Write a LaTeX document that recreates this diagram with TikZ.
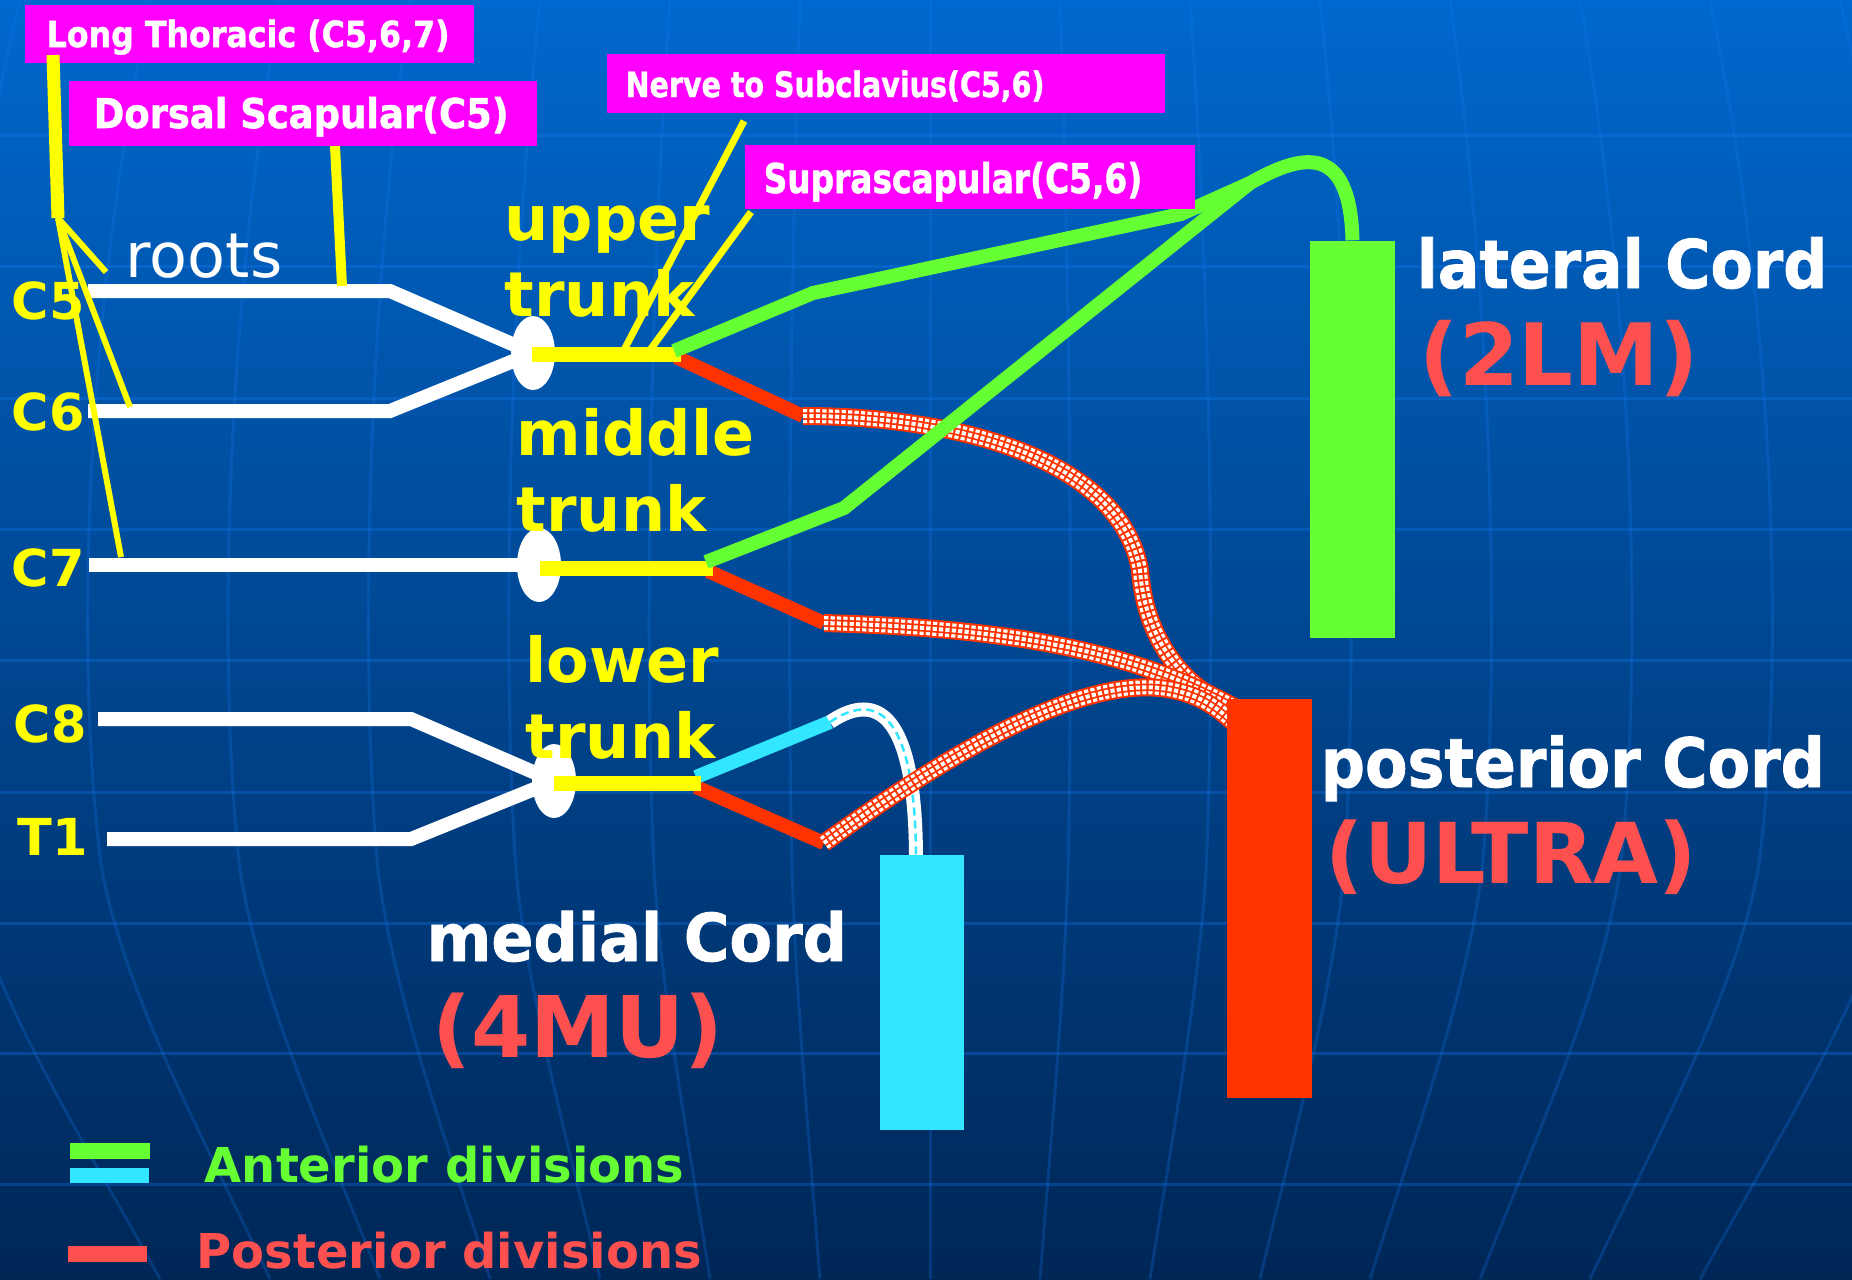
\documentclass[tikz,border=0pt]{standalone}
\usepackage{fontspec}
\usepackage{graphicx}
\setmainfont{DejaVu Sans}
\newfontfamily\heavy{DejaVu Sans}[BoldFeatures={FakeBold=1.3}]
\usetikzlibrary{shapes.geometric}
\definecolor{bgtop}{RGB}{0,104,206}
\definecolor{bgmid}{RGB}{0,80,162}
\definecolor{bgbot}{RGB}{0,38,86}
\definecolor{gridc}{RGB}{20,120,240}
\definecolor{mag}{RGB}{255,0,255}
\definecolor{yel}{RGB}{255,255,0}
\definecolor{grn}{RGB}{102,255,51}
\definecolor{cyn}{RGB}{51,230,255}
\definecolor{hred}{RGB}{255,51,0}
\definecolor{tred}{RGB}{255,80,80}
\newcommand\sxb[2]{\scalebox{#1}[1]{#2}}
\begin{document}
\begin{tikzpicture}[x=0.1mm,y=-0.1mm,
  gridline/.style={draw=gridc, line width=0.3mm, opacity=0.32},
  root/.style={draw=white, line width=1.4mm},
  junc/.style={ellipse, fill=white, minimum width=4.4mm, minimum height=7.4mm, inner sep=0pt},
  ybar/.style={draw=yel, line width=1.5mm},
  ant/.style={draw=grn, line width=1.4mm},
  post/.style={draw=hred, line width=1.4mm},
  hatch/.style={draw=hred, line width=1.8mm,
    postaction={draw=white, line width=1.4mm, dash pattern=on 0.42mm off 0.22mm},
    postaction={draw=hred, line width=0.75mm, solid},
    postaction={draw=white, line width=0.4mm, dash pattern=on 0.42mm off 0.22mm}},
  medc/.style={draw=white, line width=1.4mm,
    postaction={draw=cyn, line width=0.25mm, dash pattern=on 0.8mm off 0.5mm}},
  nerve/.style={draw=yel, line width=0.7mm},
  magbox/.style={rectangle, fill=mag, inner sep=0pt},
  cord/.style={rectangle, inner sep=0pt},
  lbl/.style={inner sep=0pt, anchor=base west},
  maglbl/.style={lbl, text=white},
  trunklbl/.style={lbl, text=yel, font=\fontsize{17.64pt}{21.9pt}\selectfont\bfseries},
  rootlbl/.style={lbl, text=yel, font=\fontsize{14.5pt}{14.5pt}\selectfont\bfseries},
  cordlbl/.style={lbl, text=white},
  mnem/.style={lbl, text=tred},
  leg/.style={rectangle, inner sep=0pt}
]
\useasboundingbox (0,0) rectangle (1852,1279);
\shade[top color=bgtop, middle color=bgmid, bottom color=bgbot] (0,0) rectangle (1852,1279);
% background grid
\foreach \y in {135,266,398,529,660,792,923,1053,1184}
  \draw[gridline] (0,\y) -- (1852,\y);
\foreach \j in {-7,...,7}
  \draw[gridline, opacity=0.25] ({930+130*\j},0) .. controls ({930+142*\j},350) and ({930+142*\j},700) .. ({930+138*\j},870)
     .. controls ({930+134*\j},1000) and ({930+120*\j},1150) .. ({930+110*\j},1279);

% coordinates
\coordinate (c5a) at (88,291);  \coordinate (c5b) at (390,291);
\coordinate (c6a) at (88,411);  \coordinate (c6b) at (390,411);
\coordinate (c7a) at (89,565);
\coordinate (c8a) at (98,719);  \coordinate (c8b) at (411,719);
\coordinate (t1a) at (107,839); \coordinate (t1b) at (411,839);
\coordinate (utc) at (533,353);
\coordinate (mtc) at (539,565);
\coordinate (ltc) at (554,781);

% roots
\draw[root] (c5a) -- (c5b) -- (utc);
\draw[root] (c6a) -- (c6b) -- (utc);
\draw[root] (c7a) -- (mtc);
\draw[root] (c8a) -- (c8b) -- (ltc);
\draw[root] (t1a) -- (t1b) -- (ltc);
\node[junc] (ut) at (utc) {};
\node[junc] (mt) at (mtc) {};
\node[junc] (lt) at (ltc) {};

% trunks
\coordinate (ub1) at (532,354); \coordinate (ub2) at (681,354);
\coordinate (mb1) at (540,568); \coordinate (mb2) at (713,568);
\coordinate (lb1) at (554,783); \coordinate (lb2) at (701,783);

% division points
\coordinate (r1s) at (676,357); \coordinate (r1e) at (803,416);
\coordinate (r2s) at (708,571); \coordinate (r2e) at (824,623);
\coordinate (r3s) at (696,787); \coordinate (r3e) at (824,843);
\coordinate (hm1) at (1140,570);
\coordinate (hm3) at (1160,688);
\coordinate (pin) at (1236,708);
\coordinate (pin2) at (1236,725);
\coordinate (g1s) at (674,351); \coordinate (g1k) at (813,293); \coordinate (g1m) at (1181,214);
\coordinate (g2s) at (706,562); \coordinate (g2k) at (844,508);
\coordinate (lj) at (1250,183);
\coordinate (c1s) at (696,777); \coordinate (c1e) at (830,722);
\coordinate (mtop) at (916,856);

% posterior divisions
\draw[post] (r1s) -- (r1e);
\draw[post] (r2s) -- (r2e);
\draw[post] (r3s) -- (r3e);
% medial (anterior of lower trunk)
\draw[draw=cyn, line width=1.4mm] (c1s) -- (c1e);
\draw[medc] (c1e) .. controls (870,695) and (915,700) .. (mtop);
% hatched posterior divisions
\draw[hatch] (r1e) .. controls (960,416) and (1120,460) .. (hm1) .. controls (1145,640) and (1185,690) .. (pin);
\draw[hatch] (r2e) .. controls (1000,628) and (1130,648) .. (pin);
\draw[hatch] (r3e) .. controls (960,745) and (1080,680) .. (hm3) .. controls (1195,692) and (1215,705) .. (pin2);

% yellow trunk bars
\draw[ybar] (ub1) -- (ub2);
\draw[ybar] (mb1) -- (mb2);
\draw[ybar] (lb1) -- (lb2);

% cords
\node[cord, fill=grn, minimum width=8.5mm, minimum height=39.7mm] (lat) at (1352.5,439.5) {};
\node[cord, fill=hred, minimum width=8.5mm, minimum height=39.9mm] (post) at (1269.5,898.5) {};
\node[cord, fill=cyn, minimum width=8.4mm, minimum height=27.5mm] (med) at (922,992.5) {};
% anterior divisions to lateral cord
\draw[ant] (g1s) -- (g1k) -- (g1m) -- (lj);
\draw[ant] (g2s) -- (g2k) -- (lj);
\draw[ant] (lj) .. controls (1300,155) and (1350,140) .. (lat.north);

% nerve branch label boxes
\node[magbox, minimum width=44.9mm, minimum height=5.8mm] (ltbox) at (249.5,34) {};
\node[magbox, minimum width=46.8mm, minimum height=6.5mm] (dsbox) at (303,113.5) {};
\node[magbox, minimum width=55.8mm, minimum height=5.9mm] (nsbox) at (886,83.5) {};
\node[magbox, minimum width=45mm, minimum height=6.4mm] (ssbox) at (970,177) {};
\node[maglbl, font=\fontsize{10.24pt}{11pt}\heavy\bfseries] (ltt) at (46,47) {\sxb{0.88}{Long Thoracic (C5,6,7)}};
\node[maglbl, font=\fontsize{11.67pt}{12pt}\heavy\bfseries] (dst) at (93,128) {\sxb{0.9}{Dorsal Scapular(C5)}};
\node[maglbl, font=\fontsize{9.96pt}{11pt}\heavy\bfseries] (nst) at (625,97) {\sxb{0.815}{Nerve to Subclavius(C5,6)}};
\node[maglbl, font=\fontsize{11.67pt}{12pt}\heavy\bfseries] (sst) at (763,193) {\sxb{0.8}{Suprascapular(C5,6)}};

% nerve lines
\coordinate (lt1) at (53,55); \coordinate (lt2) at (58,218);
\coordinate (ltr) at (106,272); \coordinate (lt6) at (130,407); \coordinate (lt7) at (121,557);
\coordinate (ds1) at (335,146); \coordinate (ds2) at (342,286);
\coordinate (ns1) at (744,121); \coordinate (ns2) at (624,350);
\coordinate (ss1) at (751,212); \coordinate (ss2) at (650,350);
\draw[draw=yel, line width=1.3mm] (lt1) -- (lt2);
\draw[draw=yel, line width=0.6mm] (lt2) -- (ltr);
\draw[draw=yel, line width=0.6mm] (lt2) -- (lt6);
\draw[draw=yel, line width=0.6mm] (lt2) -- (lt7);
\draw[draw=yel, line width=1.0mm] (ds1) -- (ds2);
\draw[nerve] (ns1) -- (ns2);
\draw[nerve] (ss1) -- (ss2);

% labels
\node[lbl, text=white, font=\fontsize{17.64pt}{18pt}\selectfont] (roots) at (125,277) {roots};
\node[rootlbl] (lc5) at (11,319) {C5};
\node[rootlbl] (lc6) at (11,430) {C6};
\node[rootlbl] (lc7) at (11,586) {C7};
\node[rootlbl] (lc8) at (13,742) {C8};
\node[rootlbl] (lt1l) at (17,855) {T1};
\node[trunklbl] (uptl) at (504,240) {\vtop{\hbox{upper}\hbox{trunk}}};
\node[trunklbl] (mitl) at (516,455) {\vtop{\hbox{middle}\hbox{trunk}}};
\node[trunklbl] (lotl) at (525,682) {\vtop{\hbox{lower}\hbox{trunk}}};

\node[cordlbl, font=\fontsize{19.06pt}{20pt}\heavy\bfseries] (latl) at (1416,288) {\sxb{0.92}{lateral Cord}};
\node[mnem, font=\fontsize{24.47pt}{25pt}\selectfont\bfseries] (latm) at (1419,385) {(2LM)};
\node[cordlbl, font=\fontsize{19.35pt}{20pt}\heavy\bfseries] (postl) at (1320,787) {\sxb{0.91}{posterior Cord}};
\node[mnem, font=\fontsize{23.9pt}{25pt}\selectfont\bfseries] (postm) at (1325,883) {(ULTRA)};
\node[cordlbl, font=\fontsize{18.78pt}{20pt}\heavy\bfseries] (medl) at (426,961) {\sxb{0.94}{medial Cord}};
\node[mnem, font=\fontsize{24.19pt}{25pt}\selectfont\bfseries] (medm) at (432,1057) {(4MU)};

% legend
\node[leg, fill=grn, minimum width=8mm, minimum height=1.6mm] (lg1) at (110,1151) {};
\node[leg, fill=cyn, minimum width=7.9mm, minimum height=1.5mm] (lg2) at (109.5,1175.5) {};
\node[leg, fill=tred, minimum width=7.9mm, minimum height=1.6mm] (lg3) at (107.5,1254) {};
\node[lbl, text=grn, font=\fontsize{13.66pt}{14pt}\selectfont\bfseries] (lgt1) at (204,1182) {Anterior divisions};
\node[lbl, text=tred, font=\fontsize{13.66pt}{14pt}\selectfont\bfseries] (lgt2) at (196,1268) {Posterior divisions};
\end{tikzpicture}
\end{document}
